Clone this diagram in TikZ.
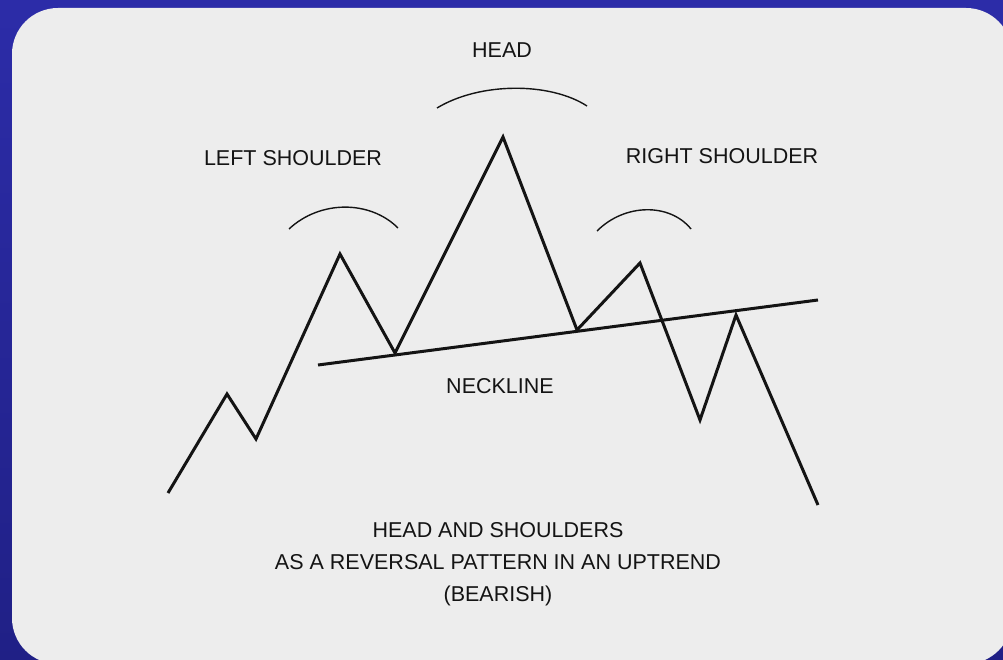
\documentclass[tikz,border=0pt]{standalone}
\usepackage{fontspec}
\newfontfamily\lblfont{Liberation Sans}
\definecolor{bgtop}{RGB}{44,44,168}
\definecolor{bgbot}{RGB}{32,32,134}
\definecolor{panel}{RGB}{237,237,237}
\definecolor{ink}{RGB}{20,20,20}
\begin{document}
\begin{tikzpicture}[x=1pt,y=-1pt,
  price/.style={draw=ink,line width=3pt,line join=miter},
  arcline/.style={draw=ink,line width=1.4pt},
  lbl/.style={text=ink,font=\lblfont\fontsize{21.5}{32}\selectfont,inner sep=0pt,align=center}]
\useasboundingbox (0,0) rectangle (1003,660);
\shade[top color=bgtop,bottom color=bgbot] (0,0) rectangle (1003,660);
\fill[panel,rounded corners=46pt] (12,8) rectangle (1012,664);
% price points
\coordinate (p0) at (168,493);
\coordinate (p1) at (227,394);
\coordinate (p2) at (256,439);
\coordinate (p3) at (340,254);
\coordinate (p4) at (395,353);
\coordinate (p5) at (503,137);
\coordinate (p6) at (577,330);
\coordinate (p7) at (640,263);
\coordinate (p8) at (700,420);
\coordinate (p9) at (736,315);
\coordinate (p10) at (818,505);
\coordinate (n0) at (318,365);
\coordinate (n1) at (818,300);
\draw[price] (p0) -- (p1) -- (p2) -- (p3) -- (p4) -- (p5) -- (p6) -- (p7) -- (p8) -- (p9) -- (p10);
\draw[price] (n0) -- (n1);
% arcs
\coordinate (la0) at (289,229);
\coordinate (la1) at (398,228);
\coordinate (ha0) at (437,108);
\coordinate (ha1) at (587,106);
\coordinate (ra0) at (597,231);
\coordinate (ra1) at (691,229);
\draw[arcline] (la0) .. controls (320,200) and (370,200) .. (la1);
\draw[arcline] (ha0) .. controls (480,82) and (550,82) .. (ha1);
\draw[arcline] (ra0) .. controls (625,203) and (670,203) .. (ra1);
% labels
\node[lbl] (head) at (502,50) {HEAD};
\node[lbl] (ls) at (293,158) {LEFT SHOULDER};
\node[lbl] (rs) at (722,156) {RIGHT SHOULDER};
\node[lbl] (neck) at (500,386) {NECKLINE};
\node[lbl] (title) at (498,564) {HEAD AND SHOULDERS\\AS A REVERSAL PATTERN IN AN UPTREND\\(BEARISH)};
\end{tikzpicture}
\end{document}
